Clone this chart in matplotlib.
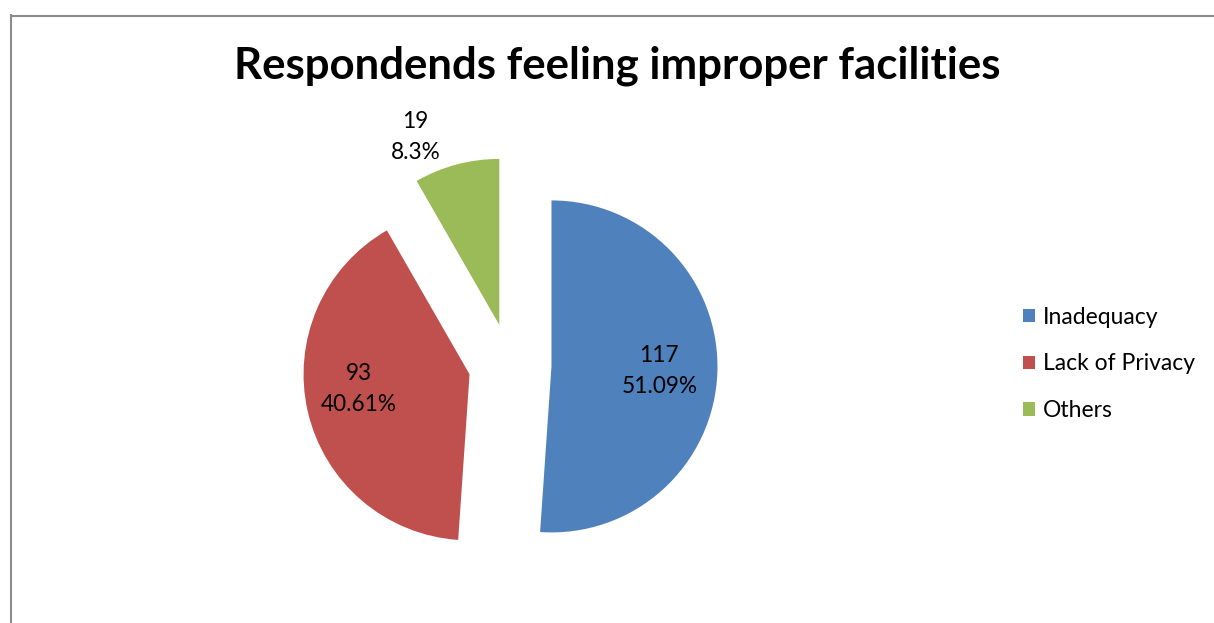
import matplotlib
matplotlib.use("Agg")
import matplotlib.pyplot as plt
from matplotlib.lines import Line2D
import numpy as np

# Survey data
categories = ["Inadequacy", "Lack of Privacy", "Others"]
counts = [117, 93, 19]
percent_labels = ["51.09%", "40.61%", "8.3%"]
colors = ["#4F81BD", "#C0504D", "#9BBB59"]

plt.rcParams["font.family"] = ["Lato", "DejaVu Sans"]

W, H = 1214, 623
fig = plt.figure(figsize=(W / 100, H / 100), dpi=100)
ax = fig.add_axes([0, 0, 1, 1])

radius = 166
center = (510, H - 365)
offset = 0.25 * radius  # explode distance in data units
wedges, _ = ax.pie(
    counts,
    colors=colors,
    startangle=90,
    counterclock=False,
    explode=[offset] * len(counts),
    radius=radius,
    center=center,
    wedgeprops=dict(linewidth=0),
)
ax.set_xlim(0, W)
ax.set_ylim(0, H)
ax.set_aspect("equal")
ax.axis("off")

# Data labels: value and percentage (distance in radii, angle in degrees)
label_pos = [(0.65, -2.5), (0.675, 187.5), (1.24, 114.0)]
for w, n, p, (dist, ang) in zip(wedges, counts, percent_labels, label_pos):
    cx, cy = w.center
    x = cx + dist * w.r * np.cos(np.deg2rad(ang))
    y = cy + dist * w.r * np.sin(np.deg2rad(ang))
    ax.text(x, y, f"{n}\n{p}", ha="center", va="center", fontsize=16.3,
            linespacing=1.6, color="black")

fig.text(617 / W, 1 - 66 / H, "Respondends feeling improper facilities",
         ha="center", va="center", fontsize=31.5, fontweight="bold")

fig.legend(wedges, categories, loc="center left",
           bbox_to_anchor=(1023 / W, 1 - 364 / H), frameon=False,
           fontsize=16.5, handlelength=0.53, handleheight=0.53,
           handletextpad=0.35, labelspacing=1.12, borderaxespad=0,
           borderpad=0)

# Chart area border
fig.add_artist(Line2D([10.5 / W, 10.5 / W], [0, 1 - 15 / H],
                      transform=fig.transFigure, color="#8c8c8c", lw=1.5))
fig.add_artist(Line2D([10.5 / W, 1], [1 - 15.5 / H, 1 - 15.5 / H],
                      transform=fig.transFigure, color="#8c8c8c", lw=1.5))

fig.savefig("out.png", dpi=100, facecolor="white")
